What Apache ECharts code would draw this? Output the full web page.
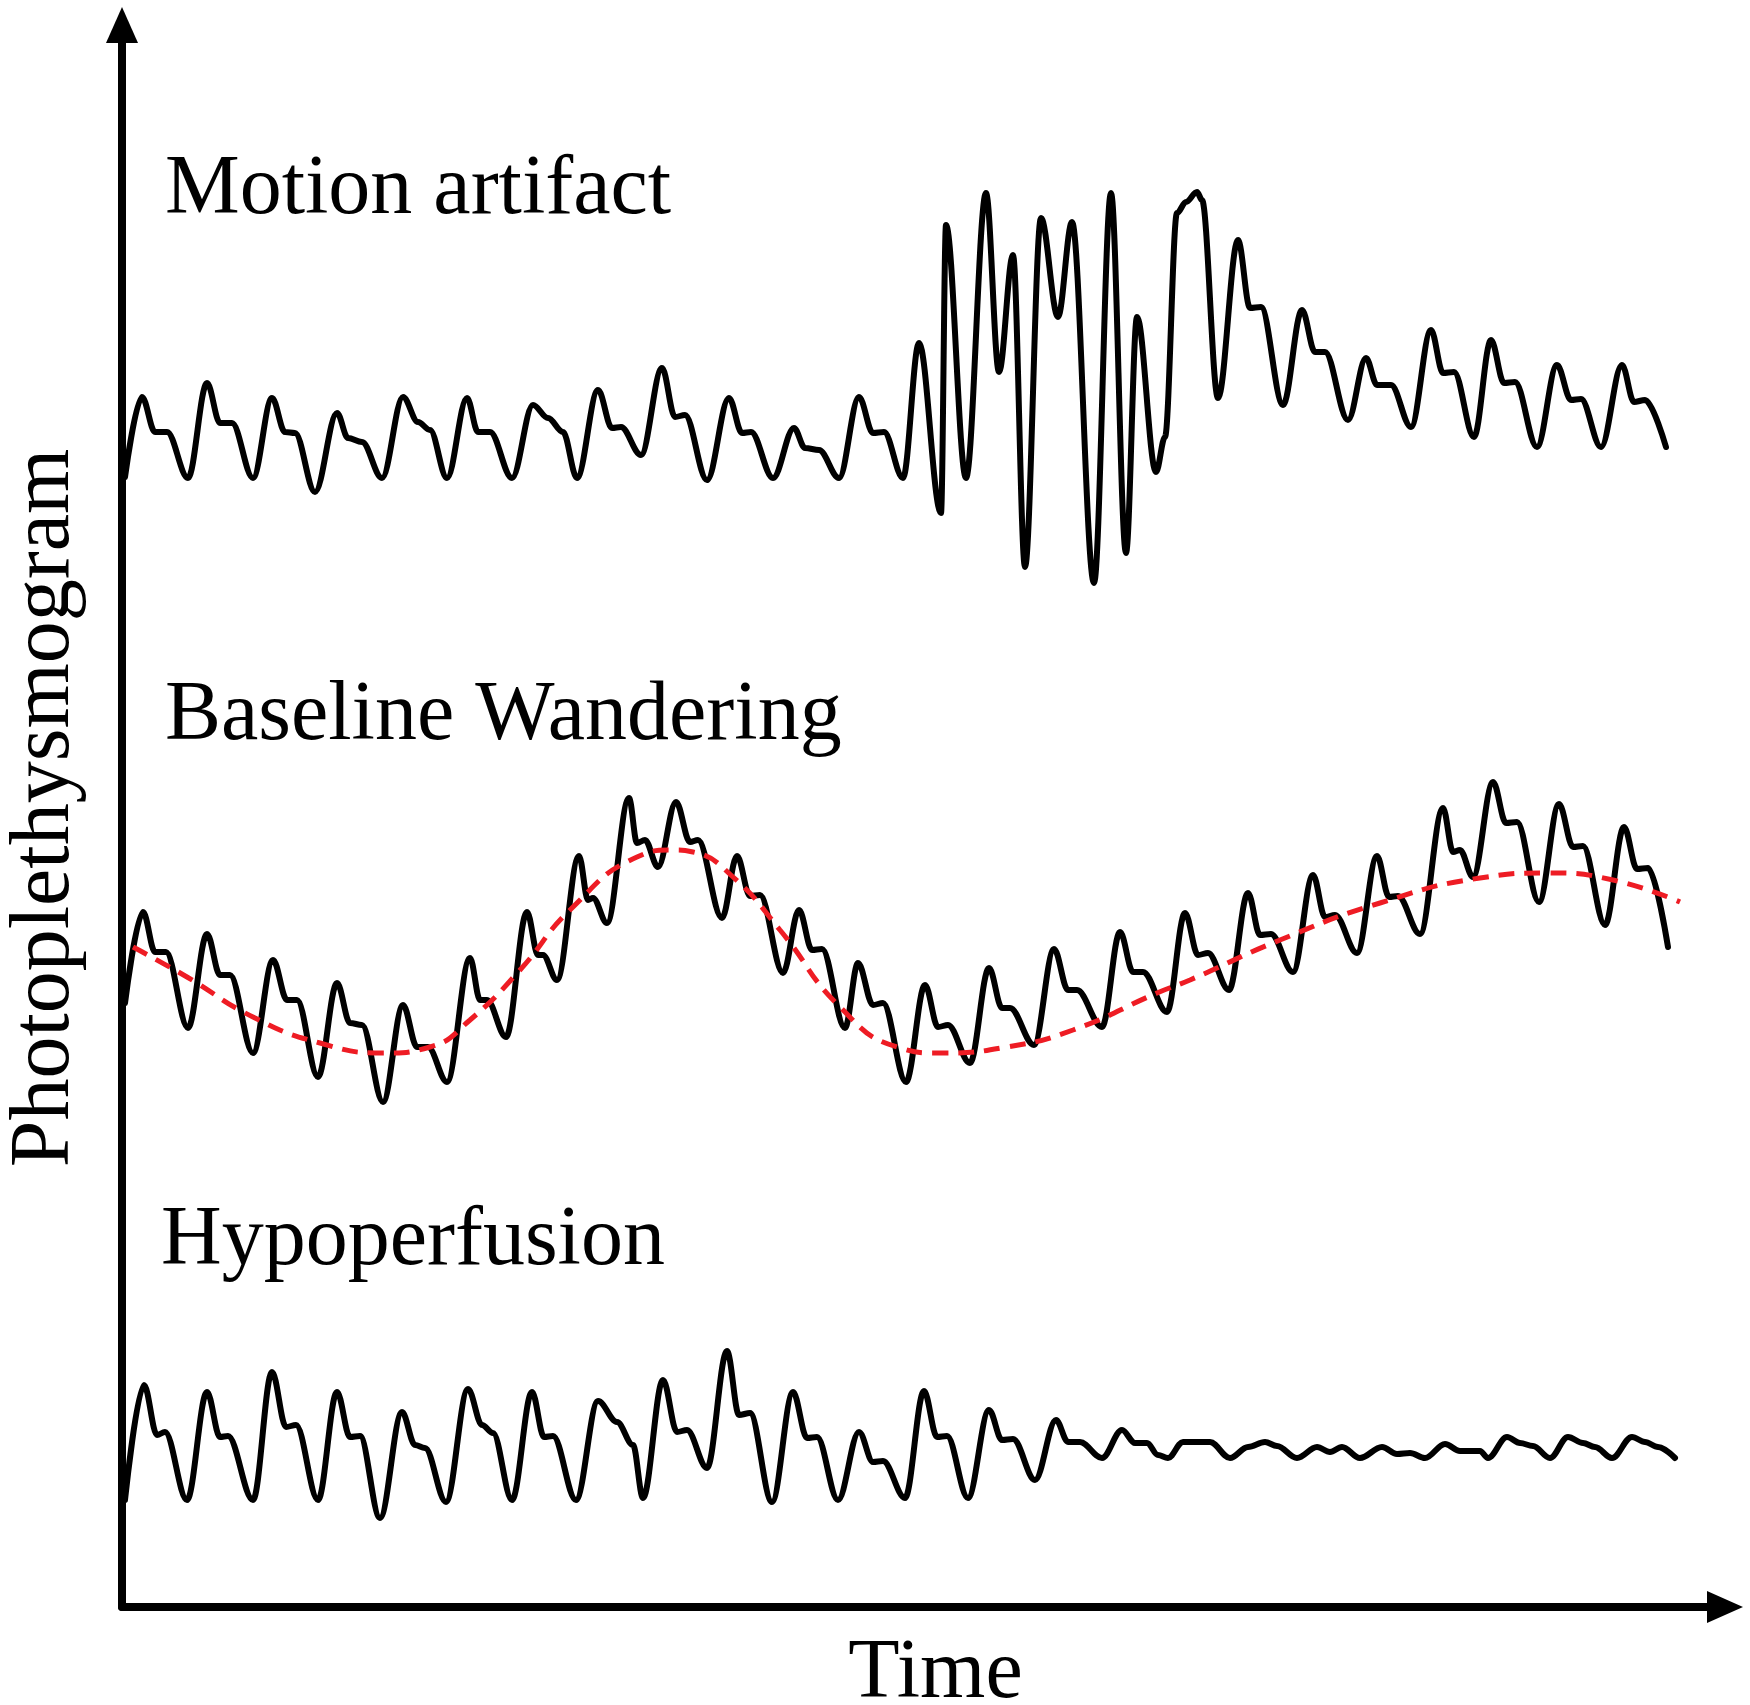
<!DOCTYPE html>
<html>
<head>
<meta charset="utf-8">
<script src="https://cdn.jsdelivr.net/npm/echarts@6/dist/echarts.min.js"></script>
<style>
html,body{margin:0;padding:0;background:#fff;}
#chart{width:1750px;height:1705px;}
</style>
</head>
<body>
<div id="chart"></div>
<script>
// Axis titles and panel labels
var xAxisTitle = 'Time';
var yAxisTitle = 'Photoplethysmogram';
var panelLabels = ['Motion artifact', 'Baseline Wandering', 'Hypoperfusion'];

// [time, amplitude] (arbitrary units)
var motionArtifact = [
  [3,1130],[20,1210],[33,1175],[45,1175],[66,1129],
  [85,1224],[98,1184],[110,1184],[131,1129],
  [150,1209],[163,1175],[173,1174],[193,1115],
  [215,1194],[226,1169],[240,1165],[260,1129],
  [281,1210],[296,1185],[308,1177],[325,1129],
  [345,1209],[356,1175],[368,1175],[390,1129],
  [411,1202],[426,1189],[441,1175],[455,1129],
  [476,1217],[490,1179],[499,1180],[519,1152],
  [540,1239],[553,1190],[563,1192],[585,1127],
  [607,1209],[620,1174],[629,1175],[651,1129],
  [672,1179],[683,1159],[697,1157],[717,1129],
  [737,1210],[751,1174],[762,1175],[781,1129],
  [797,1264],[819,1094],[824,1382],[844,1129],
  [864,1414],[877,1235],[891,1352],[903,1040],
  [919,1389],[936,1290],[950,1385],[972,1024],
  [989,1414],[1004,1054],[1015,1290],[1034,1135],
  [1043,1170],[1055,1394],[1064,1405],[1075,1415],[1080,1407],[1096,1209],
  [1116,1367],[1128,1299],[1139,1300],[1161,1202],
  [1180,1297],[1193,1255],[1203,1255],[1226,1187],
  [1244,1249],[1255,1222],[1269,1222],[1289,1180],
  [1309,1277],[1321,1234],[1332,1235],[1352,1170],
  [1369,1267],[1382,1224],[1393,1225],[1415,1160],
  [1435,1242],[1449,1207],[1459,1208],[1479,1160],
  [1500,1242],[1512,1205],[1523,1207],[1544,1160]
];

var baselineWandering = [
  [3,604],[21,695],[33,655],[44,655],[66,579],
  [85,673],[98,632],[108,632],[131,554],
  [151,647],[165,607],[175,607],[196,530],
  [215,624],[228,584],[240,582],[261,505],
  [281,602],[295,560],[306,560],[325,525],
  [348,649],[358,607],[365,607],[384,570],
  [405,695],[416,652],[421,652],[435,627],
  [457,751],[466,707],[471,709],[485,684],
  [507,809],[515,764],[523,767],[536,740],
  [554,805],[568,765],[576,767],[600,689],
  [615,751],[628,711],[638,712],[661,634],
  [677,697],[690,657],[700,658],[723,579],
  [736,644],[751,602],[761,604],[784,525],
  [803,622],[816,580],[826,582],[848,544],
  [867,639],[880,599],[888,599],[912,562],
  [932,658],[946,617],[955,617],[980,580],
  [998,675],[1011,635],[1021,635],[1045,595],
  [1063,694],[1076,652],[1086,654],[1107,617],
  [1126,714],[1138,672],[1149,673],[1171,635],
  [1191,732],[1203,690],[1213,692],[1235,654],
  [1255,751],[1267,710],[1276,711],[1298,673],
  [1321,799],[1331,755],[1338,757],[1351,730],
  [1371,825],[1384,784],[1395,785],[1417,705],
  [1437,803],[1451,760],[1461,761],[1483,682],
  [1502,780],[1515,738],[1526,739],[1546,660]
];

var baselineTrend = [
  [11,660],[65,630],[131,590],[198,564],[261,554],[308,560],[348,587],
  [398,637],[448,697],[515,750],[551,757],[571,755],[611,730],[658,677],
  [718,600],[775,560],[818,554],[885,560],[951,577],[1035,614],[1068,627],
  [1158,667],[1258,704],[1358,729],[1425,734],[1491,727],[1558,705]
];

var hypoperfusion = [
  [3,107],[22,222],[35,172],[43,175],[65,107],
  [85,215],[98,170],[106,171],[131,107],
  [150,235],[164,180],[174,182],[196,107],
  [215,215],[228,170],[238,171],[258,89],
  [280,195],[293,162],[303,159],[324,105],
  [346,218],[360,182],[371,174],[390,107],
  [410,215],[422,170],[431,171],[454,107],
  [476,206],[495,185],[511,162],[521,109],
  [541,227],[555,175],[565,177],[585,139],
  [605,256],[617,192],[628,194],[650,105],
  [671,215],[685,169],[695,170],[716,107],
  [737,175],[751,145],[761,146],[783,109],
  [802,216],[815,170],[825,171],[846,109],
  [867,197],[880,167],[891,168],[913,127],
  [934,187],[946,165],[958,165],[980,149],
  [1000,177],[1013,164],[1025,164],[1036,152],[1046,149],
  [1061,165],[1088,165],[1108,149],
  [1126,160],[1143,165],[1155,161],[1175,149],
  [1195,160],[1208,155],[1220,160],[1238,149],
  [1260,160],[1275,153],[1288,154],[1303,149],
  [1323,163],[1338,156],[1358,156],[1366,149],
  [1385,170],[1398,164],[1411,161],[1428,149],
  [1446,170],[1461,164],[1473,160],[1490,149],
  [1510,170],[1523,165],[1536,160],[1553,149]
];

var FONT = '"Liberation Serif", "Times New Roman", serif';
var chart = echarts.init(document.getElementById('chart'), null, {renderer: 'canvas'});

function waveSeries(data) {
  return {
    type: 'line',
    data: data,
    showSymbol: false,
    smooth: 0.35,
    smoothMonotone: 'x',
    lineStyle: {color: '#000', width: 6, join: 'round', cap: 'round'},
    silent: true,
    z: 2
  };
}

var labelTops = [149, 675, 1200];
var labelLefts = [165, 165, 161];

chart.setOption({
  backgroundColor: '#fff',
  animation: false,
  grid: {left: 122, right: 25, top: 25, bottom: 98, containLabel: false, outerBoundsMode: 'none'},
  xAxis: {
    type: 'value', min: 0, max: 1603,
    name: xAxisTitle, nameLocation: 'middle', nameGap: 26,
    nameTextStyle: {fontFamily: FONT, fontSize: 84, color: '#000', padding: [0, 0, 0, 24]},
    axisLine: {show: true, onZero: false, symbol: ['none', 'triangle'], symbolSize: [32, 36],
      lineStyle: {color: '#000', width: 8}},
    axisTick: {show: false}, axisLabel: {show: false}, splitLine: {show: false}
  },
  yAxis: {
    type: 'value', min: 0, max: 1582,
    name: yAxisTitle, nameLocation: 'middle', nameGap: 34, nameRotate: 90,
    nameTextStyle: {fontFamily: FONT, fontSize: 84, color: '#000', padding: [0, 0, 0, 16]},
    axisLine: {show: true, onZero: false, symbol: ['none', 'triangle'], symbolSize: [32, 36],
      lineStyle: {color: '#000', width: 8}},
    axisTick: {show: false}, axisLabel: {show: false}, splitLine: {show: false}
  },
  graphic: panelLabels.map(function (t, i) {
    return {
      type: 'text', left: labelLefts[i], top: labelTops[i], silent: true,
      style: {text: t, font: '84px ' + FONT, fill: '#000'}
    };
  }),
  series: [
    waveSeries(motionArtifact),
    waveSeries(baselineWandering),
    waveSeries(hypoperfusion),
    {
      type: 'line',
      data: baselineTrend,
      showSymbol: false,
      smooth: 0.5,
      lineStyle: {color: '#ee1c24', width: 5, type: [16, 10]},
      silent: true,
      z: 3
    }
  ]
});
</script>
</body>
</html>
